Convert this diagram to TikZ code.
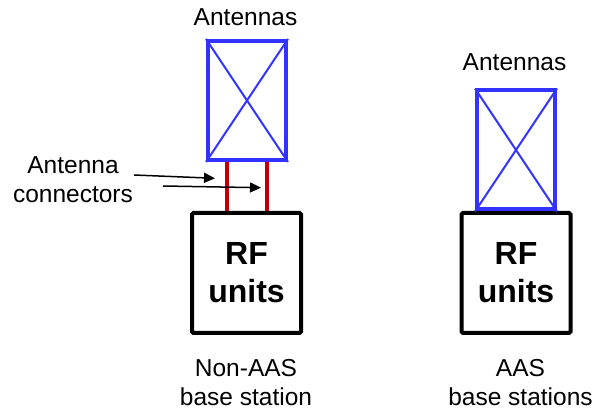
\documentclass[tikz,border=0pt]{standalone}
\usepackage{fontspec}
\setmainfont{Liberation Sans}
\usetikzlibrary{arrows.meta}
\definecolor{antblue}{RGB}{51,51,255}
\definecolor{conred}{RGB}{192,0,0}
\begin{document}
\begin{tikzpicture}[x=1pt,y=-1pt,
  antbox/.style={draw=antblue,line width=4pt,minimum width=78pt,minimum height=119pt,inner sep=0pt},
  antdiag/.style={draw=antblue,line width=2pt},
  rfbox/.style={draw=black,line width=4pt,rounded corners=1.5pt,minimum width=109pt,minimum height=120pt,inner sep=0pt,
    font=\fontsize{32}{38}\selectfont\bfseries,align=center},
  label/.style={font=\fontsize{24.5}{29}\selectfont,align=center,inner sep=0pt,anchor=base},
  conline/.style={draw=conred,line width=3.5pt},
  pointer/.style={draw=black,line width=1.5pt,-{Triangle[length=11pt,width=10pt]}}]
\useasboundingbox (0,0) rectangle (595,414);

% Non-AAS base station
\node[rfbox] (rf1) at (246.5,273) {RF\\units};
\node[antbox] (ant1) at (247,100.5) {};
\draw[antdiag] (ant1.north west) -- (ant1.south east);
\draw[antdiag] (ant1.north east) -- (ant1.south west);
\coordinate (c1t) at ([xshift=-20pt]ant1.south);
\coordinate (c1b) at ([xshift=-20pt]ant1.south |- rf1.north);
\coordinate (c2t) at ([xshift=20pt]ant1.south);
\coordinate (c2b) at ([xshift=20pt]ant1.south |- rf1.north);
\draw[conline] (c1t) -- (c1b);
\draw[conline] (c2t) -- (c2b);
\node[label] (lab1) at (245.5,26) {Antennas};
\node[label] (conlab) at (73,202.5) {Antenna\\connectors};
\coordinate (p1s) at (134,175);
\coordinate (p1e) at (215,178.3);
\coordinate (p2s) at (163,186);
\coordinate (p2e) at (261,187.7);
\draw[pointer] (p1s) -- (p1e);
\draw[pointer] (p2s) -- (p2e);
\node[label] (cap1) at (246,406) {Non-AAS\\base station};

% AAS base station
\node[rfbox] (rf2) at (516,273) {RF\\units};
\node[antbox] (ant2) at (516,150) {};
\draw[antdiag] (ant2.north west) -- (ant2.south east);
\draw[antdiag] (ant2.north east) -- (ant2.south west);
\node[label] (lab2) at (514.5,70.5) {Antennas};
\node[label] (cap2) at (520.5,406) {AAS\\base stations};
\end{tikzpicture}
\end{document}
